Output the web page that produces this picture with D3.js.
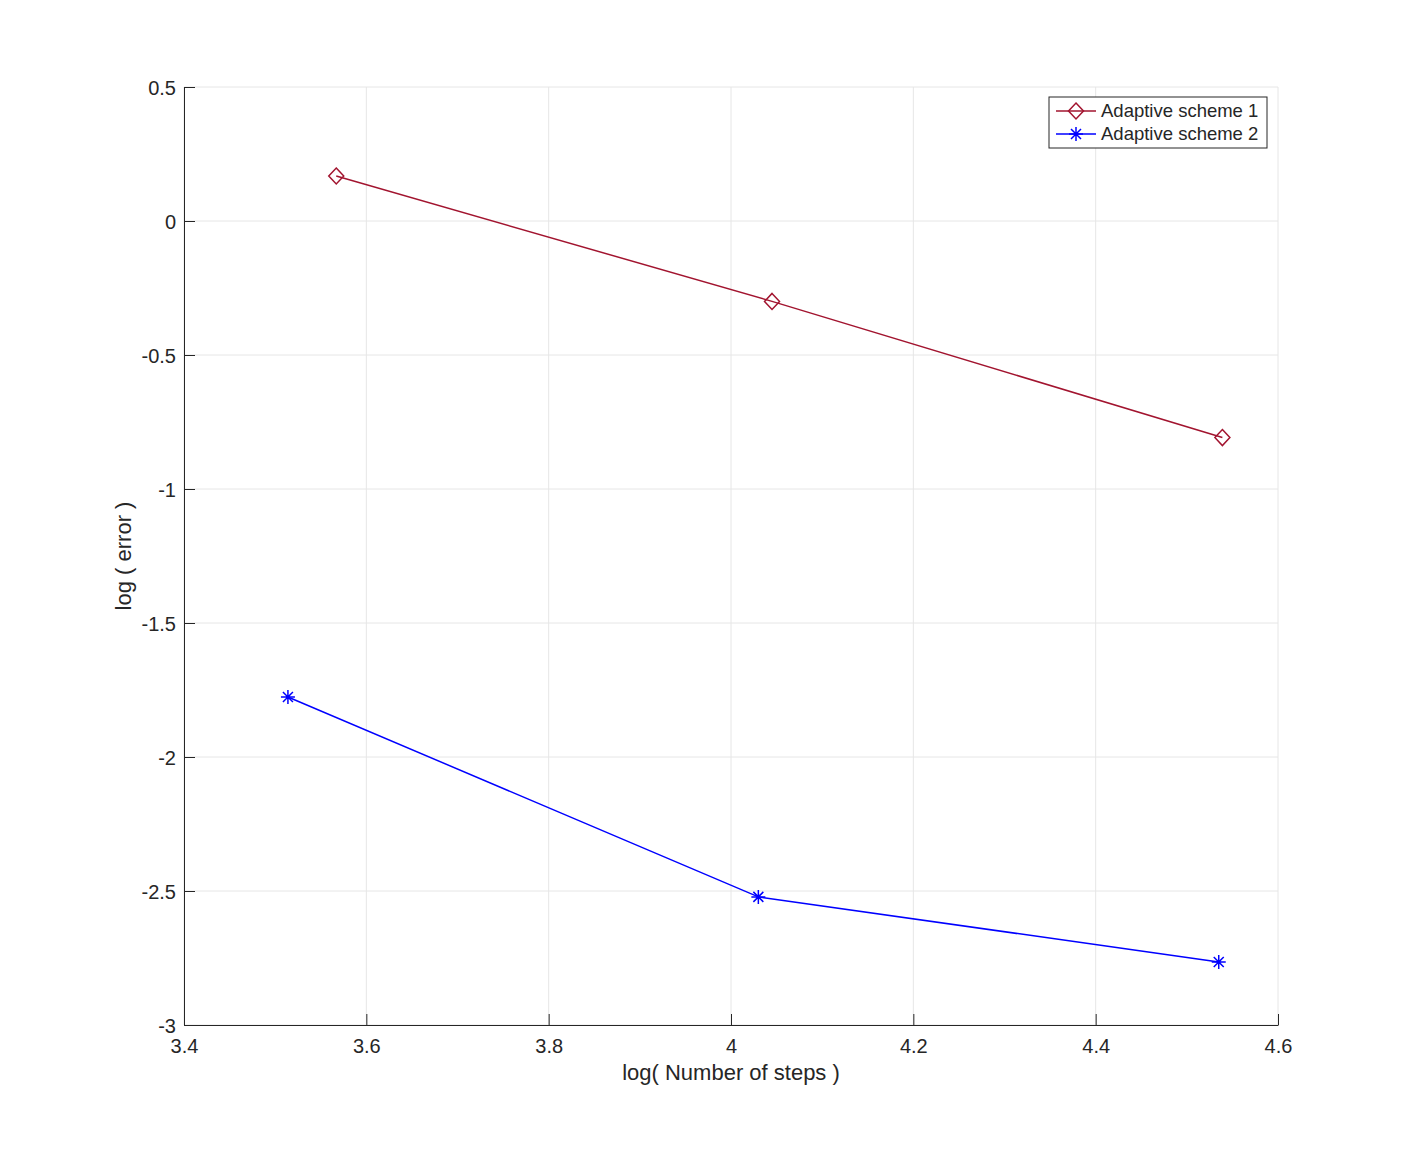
<!DOCTYPE html>
<html>
<head>
<meta charset="utf-8">
<script src="https://cdn.jsdelivr.net/npm/d3@7"></script>
<style>
  body { margin: 0; background: #fff; }
  svg text { font-family: "Liberation Sans", Arial, sans-serif; fill: #262626; }
</style>
</head>
<body>
<div id="chart"></div>
<script>
// data
var seriesNames = ["Adaptive scheme 1", "Adaptive scheme 2"];
var scheme1X = [3.567, 4.045, 4.539];
var scheme1Y = [0.168, -0.300, -0.808];
var scheme2X = [3.514, 4.030, 4.535];
var scheme2Y = [-1.776, -2.522, -2.765];
var xTicks = [3.4, 3.6, 3.8, 4, 4.2, 4.4, 4.6];
var yTicks = [0.5, 0, -0.5, -1, -1.5, -2, -2.5, -3];

var width = 1413, height = 1152;
var margin = {top: 87, right: 135, bottom: 127, left: 184};

var svg = d3.select("#chart").append("svg")
    .attr("width", width)
    .attr("height", height);

var x = d3.scaleLinear().domain([3.4, 4.6]).range([margin.left, width - margin.right]);
var y = d3.scaleLinear().domain([-3, 0.5]).range([height - margin.bottom, margin.top]);

// plain hyphen minus like the original
var fmt = function(d) { return String(d); };

// grid
var grid = svg.append("g").attr("class", "grid");
grid.selectAll(".gx").data(xTicks).enter().append("line")
    .attr("x1", d => x(d)).attr("x2", d => x(d))
    .attr("y1", y(-3)).attr("y2", y(0.5))
    .style("stroke", "#e6e6e6").style("stroke-width", 1);
grid.selectAll(".gy").data(yTicks).enter().append("line")
    .attr("x1", x(3.4)).attr("x2", x(4.6))
    .attr("y1", d => y(d)).attr("y2", d => y(d))
    .style("stroke", "#e6e6e6").style("stroke-width", 1);

// axes (ticks point inward)
var xAxis = svg.append("g")
    .attr("transform", "translate(0," + y(-3) + ")")
    .call(d3.axisBottom(x).tickValues(xTicks).tickSizeInner(-11).tickSizeOuter(0).tickPadding(14)
      .tickFormat(fmt));
var yAxis = svg.append("g")
    .attr("transform", "translate(" + x(3.4) + ",0)")
    .call(d3.axisLeft(y).tickValues(yTicks).tickSizeInner(-11).tickSizeOuter(0).tickPadding(8)
      .tickFormat(fmt));

[xAxis, yAxis].forEach(function(ax) {
  ax.select(".domain").style("stroke", "#262626").style("stroke-width", 1);
  ax.selectAll(".tick line").style("stroke", "#262626");
  ax.selectAll(".tick text").style("font-size", "20px").style("fill", "#262626")
    .style("font-family", "'Liberation Sans', Arial, sans-serif");
});
yAxis.selectAll(".tick text").attr("dy", "0.35em");

// axis labels
svg.append("text")
    .attr("x", x(4)).attr("y", 1080)
    .attr("text-anchor", "middle")
    .style("font-size", "22px")
    .text("log( Number of steps )");
svg.append("text")
    .attr("transform", "translate(131," + y(-1.25) + ") rotate(-90)")
    .attr("text-anchor", "middle")
    .style("font-size", "22px")
    .text("log ( error )");

var line = d3.line().x(d => x(d[0])).y(d => y(d[1]));
var data1 = d3.zip(scheme1X, scheme1Y);
var data2 = d3.zip(scheme2X, scheme2Y);
var colors = ["#a2142f", "#0000ff"];

function diamond(g, cx, cy, color) {
  g.append("path")
    .attr("d", "M" + cx + "," + (cy - 8) + "L" + (cx + 7.5) + "," + cy + "L" + cx + "," + (cy + 8) + "L" + (cx - 7.5) + "," + cy + "Z")
    .style("fill", "none").style("stroke", color).style("stroke-width", 1.5);
}
function asterisk(g, cx, cy, color) {
  var r = 7, s = 5;
  g.append("path")
    .attr("d", "M" + cx + "," + (cy - r) + "V" + (cy + r) +
               "M" + (cx - s) + "," + (cy - s) + "L" + (cx + s) + "," + (cy + s) +
               "M" + (cx - s) + "," + (cy + s) + "L" + (cx + s) + "," + (cy - s) +
               "M" + (cx - r) + "," + cy + "H" + (cx + r))
    .style("fill", "none").style("stroke", color).style("stroke-width", 1.5);
}

var plot = svg.append("g");
plot.append("path").datum(data1).attr("d", line)
    .style("fill", "none").style("stroke", colors[0]).style("stroke-width", 1.5);
plot.append("path").datum(data2).attr("d", line)
    .style("fill", "none").style("stroke", colors[1]).style("stroke-width", 1.5);
data1.forEach(d => diamond(plot, x(d[0]), y(d[1]), colors[0]));
data2.forEach(d => asterisk(plot, x(d[0]), y(d[1]), colors[1]));

// legend
var legend = svg.append("g").attr("transform", "translate(1049,97)");
legend.append("rect")
    .attr("width", 218).attr("height", 51)
    .style("fill", "#fff").style("stroke", "#262626").style("stroke-width", 1);
seriesNames.forEach(function(name, i) {
  var ly = 14 + i * 23;
  legend.append("line").attr("x1", 7).attr("x2", 47).attr("y1", ly).attr("y2", ly)
      .style("stroke", colors[i]).style("stroke-width", 1.5);
  if (i === 0) diamond(legend, 27, ly, colors[i]); else asterisk(legend, 27, ly, colors[i]);
  legend.append("text").attr("x", 52).attr("y", ly).attr("dy", "0.35em")
      .style("font-size", "18.5px").text(name);
});
</script>
</body>
</html>
